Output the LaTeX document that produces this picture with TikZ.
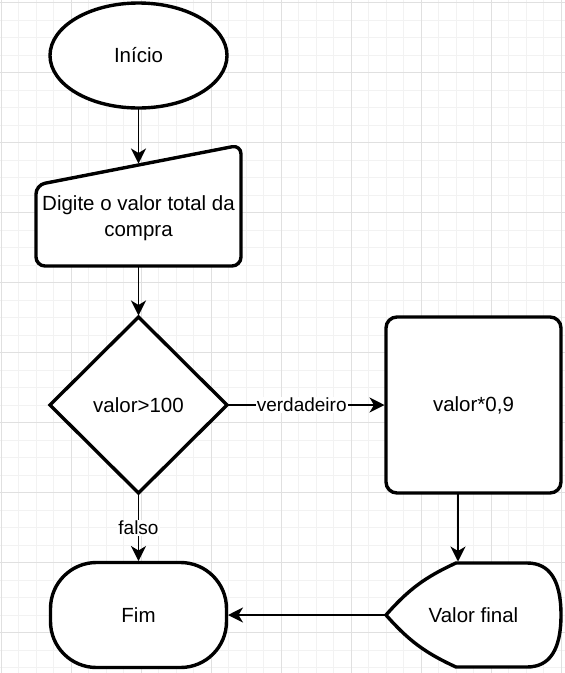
\documentclass[tikz,border=0pt]{standalone}
\usepackage{fontspec}
\setmainfont{Liberation Sans}
\setsansfont{Liberation Sans}
\usepackage{tikz}
\usetikzlibrary{
  arrows.meta, calc, positioning, backgrounds,
  shapes.geometric
}
\definecolor{linedark}{HTML}{000000}
\definecolor{textdark}{HTML}{000000}
\definecolor{gridminor}{HTML}{F2F2F2}
\definecolor{gridmajor}{HTML}{E0E0E0}
\tikzset{
  % Flowchart shapes
  startnode/.style={
    ellipse, draw=linedark, fill=white, line width=3.4pt,
    minimum width=177pt, minimum height=105pt,
    font=\fontsize{20.5pt}{25.5pt}\selectfont\sffamily, text=textdark,
    inner sep=0pt, outer sep=0pt,
  },
  endnode/.style={
    draw=linedark, fill=white, rounded corners=46pt, line width=3.4pt,
    minimum width=176pt, minimum height=105pt,
    font=\fontsize{20.5pt}{25.5pt}\selectfont\sffamily, text=textdark,
    inner sep=0pt, outer sep=0pt,
  },
  decision/.style={
    diamond, draw=linedark, fill=white, line width=3.4pt,
    minimum width=177pt, minimum height=176pt,
    font=\fontsize{20.5pt}{25.5pt}\selectfont\sffamily, text=textdark,
    inner sep=0pt, outer sep=0pt,
  },
  procbox/.style={
    draw=linedark, fill=white, rounded corners=11pt, line width=3.4pt,
    minimum width=175pt, minimum height=176pt,
    font=\fontsize{20.5pt}{25.5pt}\selectfont\sffamily, text=textdark,
    inner sep=0pt, outer sep=0pt,
  },
  % Boxes whose outline is drawn by hand
  iobox/.style={
    minimum width=205pt, minimum height=121pt,
    inner sep=0pt, outer sep=0pt,
  },
  dispbox/.style={
    minimum width=175pt, minimum height=104pt,
    font=\fontsize{20.5pt}{25.5pt}\selectfont\sffamily, text=textdark,
    inner sep=0pt, outer sep=0pt,
  },
  boxtext/.style={
    font=\fontsize{20.5pt}{25.5pt}\selectfont\sffamily, text=textdark,
    align=center, inner sep=0pt,
  },
  shapeline/.style={draw=linedark, fill=white, line width=3.4pt},
  % Arrows
  arr/.style={-{Stealth[length=15pt, width=15pt, inset=4.5pt]},
              line width=1.8pt, linedark, shorten >=1.5pt},
  % Labels
  lbl/.style={fill=white, inner sep=1pt,
              font=\fontsize{19pt}{22pt}\selectfont\sffamily, text=textdark},
  % Background grid
  gridline/.style={gridminor, line width=1pt},
  gridmajorline/.style={gridmajor, line width=1pt},
}

\begin{document}
\begin{tikzpicture}[x=1pt, y=1pt]
  \useasboundingbox (0,0) rectangle (565,-673);
  \begin{scope}[on background layer]
    \fill[white] (0,0) rectangle (565,-673);
    \foreach \k in {0,...,32}
      \draw[gridline] ({1+17.5*\k},0) -- ({1+17.5*\k},-673);
    \foreach \k in {0,...,38}
      \draw[gridline] (0,{-2.7-17.5*\k}) -- (565,{-2.7-17.5*\k});
    \foreach \k in {0,4,...,32}
      \draw[gridmajorline] ({1+17.5*\k},0) -- ({1+17.5*\k},-673);
    \foreach \k in {0,4,...,36}
      \draw[gridmajorline] (0,{-2.7-17.5*\k}) -- (565,{-2.7-17.5*\k});
  \end{scope}

  \node[startnode] (inicio) at (138.5,-55.5) {Início};
  \node[iobox, below=37pt of inicio] (mi) {};
  \node[boxtext] (mitxt) at ($(mi.center)+(0,-12.5)$)
    {Digite o valor total da\\compra};
  \node[decision, below=51pt of mi] (teste) {valor>100};
  \node[procbox, right=159pt of teste] (calc) {valor*0,9};
  \node[endnode, below=69.5pt of teste] (fim) {Fim};
  \node[dispbox, below=70pt of calc] (vf) {Valor final};

  % hand drawn outlines
  \coordinate (mitl) at ($(mi.south west)+(0,81)$);
  \coordinate (mitop) at ($(mitl)!0.5!(mi.north east)$);
  \coordinate (vftop) at ($(vf.north west)+(72,0)$);
  \begin{scope}[on background layer]
    \draw[shapeline, rounded corners=9pt]
      (mitl) -- (mi.north east) -- (mi.south east) -- (mi.south west) -- cycle;
    \draw[shapeline]
      (vf.west) to[bend left=12] ($(vf.north west)+(70,0)$)
      -- ($(vf.north east)+(-34,0)$)
      .. controls ($(vf.north east)+(-11.3,0)$) and ($(vf.east)+(0,34.7)$) .. (vf.east)
      .. controls ($(vf.east)+(0,-34.7)$) and ($(vf.south east)+(-11.3,0)$) .. ($(vf.south east)+(-34,0)$)
      -- ($(vf.south west)+(70,0)$) to[bend left=12] (vf.west) -- cycle;
  \end{scope}

  \draw[arr] (inicio.south) -- (inicio.south |- mitop);
  \draw[arr] (mi.south) -- (teste.north);
  \draw[arr] (teste.south) -- node[lbl] {falso} (fim.north);
  \draw[arr] (teste.east) -- node[lbl, pos=0.47] {verdadeiro} (calc.west);
  \draw[arr] (calc.south -| vftop) -- (vftop);
  \draw[arr] (vf.west) -- (fim.east);
\end{tikzpicture}
\end{document}
